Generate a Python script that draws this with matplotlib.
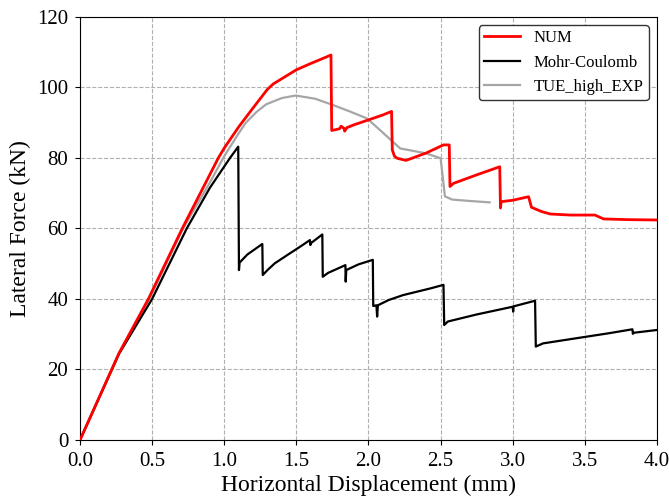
import matplotlib.pyplot as plt

plt.rcParams['font.family'] = ['Liberation Serif', 'DejaVu Serif']

# NUM (red)
num_x = [0.0, 0.27, 0.474, 0.709, 0.959, 1.0, 1.1, 1.2, 1.3, 1.34, 1.4,
         1.5, 1.6, 1.7, 1.74,
         1.745, 1.77, 1.8, 1.81, 1.83, 1.835, 1.85, 1.9, 2.0, 2.1, 2.16,
         2.165, 2.18, 2.2, 2.26, 2.32, 2.4, 2.52, 2.56,
         2.565, 2.59, 2.75, 2.91,
         2.915, 2.92, 3.0, 3.11, 3.13, 3.2, 3.26, 3.4, 3.57, 3.63, 3.8, 4.0]
num_y = [0.0, 24.6, 40.0, 60.0, 80.0, 82.8, 88.8, 94.2, 99.5, 101.0, 102.5,
         105.0, 106.8, 108.5, 109.2,
         87.8, 88.0, 88.3, 89.0, 88.4, 87.6, 88.6, 89.4, 90.8, 92.2, 93.2,
         82.3, 80.5, 79.9, 79.3, 80.2, 81.4, 83.7, 83.7,
         71.9, 72.8, 75.2, 77.5,
         65.8, 67.6, 68.0, 69.0, 66.0, 64.8, 64.1, 63.8, 63.8, 62.7, 62.5, 62.4]

# Mohr-Coulomb (black)
mc_x = [0.0, 0.27, 0.5, 0.74, 0.9, 1.04, 1.097,
        1.102, 1.106, 1.16, 1.264, 1.267, 1.3, 1.35, 1.45, 1.525, 1.594, 1.597,
        1.6, 1.68,
        1.683, 1.72, 1.84, 1.842, 1.846, 1.93, 2.03,
        2.033, 2.055, 2.06, 2.065, 2.14, 2.24, 2.43, 2.52,
        2.525, 2.55, 2.75, 3.0, 3.003, 3.006, 3.155,
        3.16, 3.21, 3.4, 3.67, 3.83, 3.833, 3.836, 4.0]
mc_y = [0.0, 24.4, 40.0, 60.0, 71.5, 80.0, 83.2,
        48.2, 50.3, 52.6, 55.6, 46.8, 48.2, 50.1, 52.8, 54.8, 56.7, 55.3,
        55.8, 58.3,
        46.3, 47.4, 49.6, 44.9, 48.2, 49.8, 51.1,
        38.0, 38.2, 35.0, 38.2, 39.7, 41.1, 43.0, 44.0,
        32.6, 33.6, 35.6, 37.8, 36.4, 37.9, 39.5,
        26.5, 27.4, 28.6, 30.3, 31.4, 30.1, 30.4, 31.2]

# TUE_high_EXP (gray)
exp_x = [0.0, 0.27, 0.48, 0.715, 0.9, 1.0, 1.1, 1.15, 1.225, 1.29, 1.4,
         1.495, 1.63, 1.755, 1.87, 1.99, 2.08, 2.22, 2.4, 2.5, 2.53, 2.58, 2.7, 2.84]
exp_y = [0.0, 24.5, 40.0, 60.0, 73.0, 80.5, 87.0, 90.0, 93.1, 95.2, 97.0,
         97.7, 96.8, 95.0, 93.2, 91.2, 87.9, 82.7, 81.3, 79.9, 69.1, 68.2, 67.8, 67.4]

fig = plt.figure(figsize=(6.69, 4.98), dpi=100)
ax = fig.add_axes([0.1196, 0.1165, 0.8624, 0.8495])

ax.plot(num_x, num_y, color='#ff0000', lw=2.0, label='NUM', zorder=4)
ax.plot(mc_x, mc_y, color='black', lw=1.6, label='Mohr-Coulomb', zorder=3)
ax.plot(exp_x, exp_y, color='#a6a6a6', lw=1.6, label='TUE_high_EXP', zorder=2)

ax.set_xlim(0, 4.0)
ax.set_ylim(0, 120)
ax.set_xticks([0.0, 0.5, 1.0, 1.5, 2.0, 2.5, 3.0, 3.5, 4.0])
ax.set_yticks([0, 20, 40, 60, 80, 100, 120])
ax.tick_params(labelsize=15, pad=5)
ax.set_xlabel('Horizontal Displacement (mm)', fontsize=17, labelpad=3)
ax.set_ylabel('Lateral Force (kN)', fontsize=17, labelpad=4)
ax.grid(True, linestyle='--', color='#b0b0b0', lw=0.8)

leg = ax.legend(loc='upper right', fontsize=12, frameon=True, fancybox=True,
                edgecolor='#333333', framealpha=1.0, borderpad=0.3,
                handlelength=2.2)
leg.get_frame().set_linewidth(1.0)

fig.savefig('out.png', dpi=100)
